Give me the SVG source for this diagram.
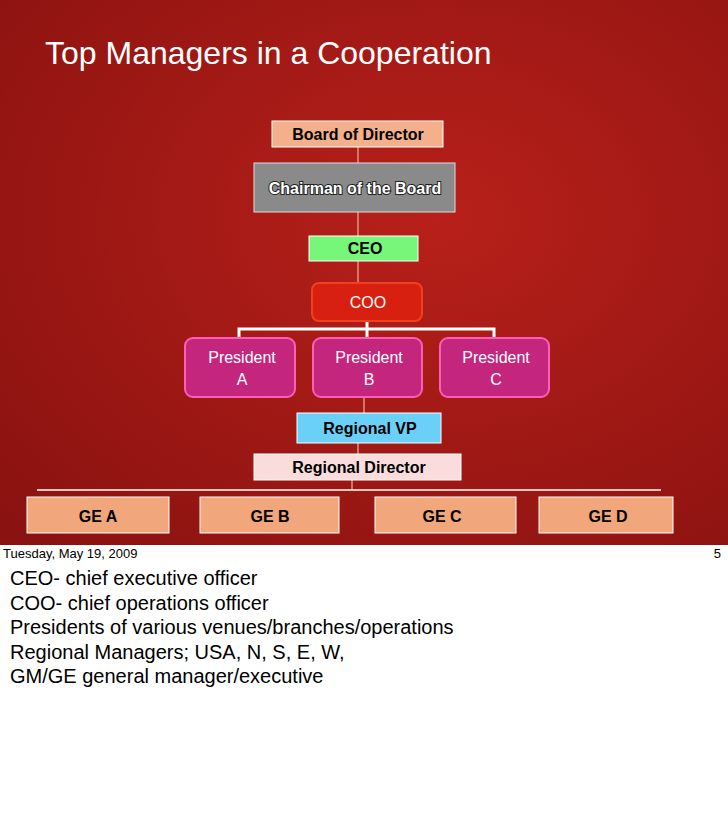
<svg xmlns="http://www.w3.org/2000/svg" width="728" height="823" viewBox="0 0 728 823">
<defs>
<radialGradient id="bg" cx="0.6" cy="0.4" r="0.8"><stop offset="0" stop-color="#b8201a"/><stop offset="1" stop-color="#8a1210"/></radialGradient>
<style>
.b{font-family:"Liberation Sans",Arial,sans-serif;font-weight:bold;font-size:16px;text-anchor:middle}
.p{font-family:"Liberation Sans",Arial,sans-serif;font-size:16px;fill:#fff;text-anchor:middle}
.n{font-family:"Liberation Sans",Arial,sans-serif;font-size:20px;fill:#000}
.pr{fill:#c4267e;stroke:#ff5cb8;stroke-width:2}
.ge{fill:#f2a67c;stroke:#fff;stroke-width:1}
</style>
</defs>
<rect width="728" height="823" fill="#fff"/>
<rect width="728" height="545" fill="url(#bg)"/>
<text x="45" y="64" font-family="Liberation Sans,Arial,sans-serif" font-size="32" fill="#fff">Top Managers in a Cooperation</text>
<g id="connectors" fill="none">
<line x1="358" y1="147" x2="358" y2="163" stroke="#e89080" stroke-width="1.5"/>
<line x1="358" y1="212" x2="358" y2="236" stroke="#e89080" stroke-width="1.5"/>
<line x1="358" y1="261" x2="358" y2="283" stroke="#e89080" stroke-width="1.5"/>
<path d="M367 321V329M239 338V329H494V338M367 329V338" stroke="#fff" stroke-width="3"/>
<line x1="364" y1="397" x2="364" y2="413" stroke="#e89080" stroke-width="1.5"/>
<line x1="358" y1="443" x2="358" y2="454" stroke="#e89080" stroke-width="1.5"/>
<line x1="352" y1="480" x2="352" y2="490" stroke="#e89080" stroke-width="1.5"/>
<line x1="37" y1="490" x2="661" y2="490" stroke="#fff" stroke-width="1.5"/>
</g>
<g id="board"><rect x="272" y="121" width="171" height="26" fill="#f4b08a" stroke="#fff"/><text class="b" x="358" y="140">Board of Director</text></g>
<g id="chairman"><rect x="254" y="163" width="201" height="49" fill="#8a8a8a" stroke="#ddd"/><text class="b" x="355" y="194" fill="#fff" stroke="#222" stroke-width="2" paint-order="stroke">Chairman of the Board</text></g>
<g id="ceo"><rect x="309" y="236" width="109" height="25" fill="#77f77a" stroke="#fff"/><text class="b" x="365" y="254">CEO</text></g>
<g id="coo"><rect x="312" y="283" width="110" height="38" rx="7" fill="#d82010" stroke="#f04020" stroke-width="2"/><text class="p" x="368" y="308">COO</text></g>
<g id="presA"><rect class="pr" x="185" y="338" width="110" height="59" rx="8"/><text class="p" x="242" y="363">President</text><text class="p" x="242" y="385">A</text></g>
<g id="presB"><rect class="pr" x="313" y="338" width="109" height="59" rx="8"/><text class="p" x="369" y="363">President</text><text class="p" x="369" y="385">B</text></g>
<g id="presC"><rect class="pr" x="440" y="338" width="109" height="59" rx="8"/><text class="p" x="496" y="363">President</text><text class="p" x="496" y="385">C</text></g>
<g id="rvp"><rect x="297" y="413" width="144" height="30" fill="#6ad0f8" stroke="#fff"/><text class="b" x="370" y="434">Regional VP</text></g>
<g id="rdir"><rect x="254" y="454" width="207" height="26" fill="#fbdcdc" stroke="#fff"/><text class="b" x="359" y="473">Regional Director</text></g>
<g id="gea"><rect class="ge" x="27" y="497" width="142" height="36"/><text class="b" x="98" y="522">GE A</text></g>
<g id="geb"><rect class="ge" x="200" y="497" width="139" height="36"/><text class="b" x="270" y="522">GE B</text></g>
<g id="gec"><rect class="ge" x="375" y="497" width="141" height="36"/><text class="b" x="442" y="522">GE C</text></g>
<g id="ged"><rect class="ge" x="539" y="497" width="134" height="36"/><text class="b" x="608" y="522">GE D</text></g>
<text x="3" y="558" font-family="Liberation Sans,Arial,sans-serif" font-size="13" fill="#000">Tuesday, May 19, 2009</text>
<text x="721" y="558" font-family="Liberation Sans,Arial,sans-serif" font-size="13" fill="#000" text-anchor="end">5</text>
<text class="n" x="10" y="585">CEO- chief executive officer</text>
<text class="n" x="10" y="610">COO- chief operations officer</text>
<text class="n" x="10" y="634">Presidents of various venues/branches/operations</text>
<text class="n" x="10" y="659">Regional Managers; USA, N, S, E, W,</text>
<text class="n" x="10" y="683">GM/GE general manager/executive</text>
</svg>
